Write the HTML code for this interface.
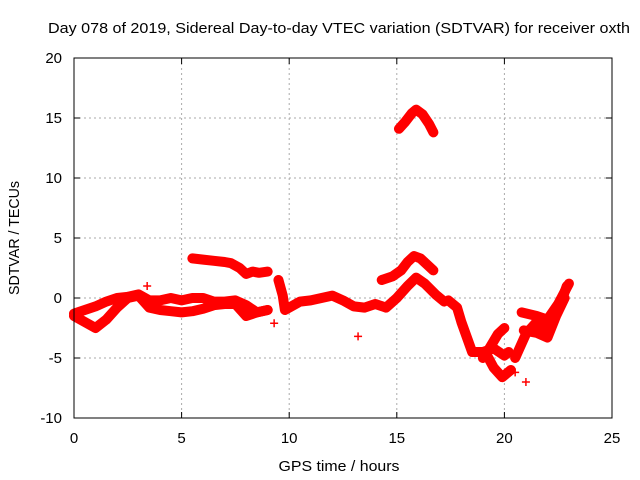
<!DOCTYPE html>
<html><head><meta charset="utf-8"><style>
body{margin:0;background:#fff;}
svg{display:block;font-family:"Liberation Sans",sans-serif;}
</style></head><body>
<svg id="chart" width="640" height="480">
<rect width="640" height="480" fill="#fff"/>
<text x="339" y="33" font-size="15" text-anchor="middle" textLength="582" lengthAdjust="spacingAndGlyphs">Day 078 of 2019, Sidereal Day-to-day VTEC variation (SDTVAR) for receiver oxth</text>
<g id="grid"></g>
<g id="marks"></g>
<rect x="74" y="58" width="538" height="360" fill="none" stroke="#000" stroke-width="1"/>
<g id="ticks"></g>
<text x="339" y="471" font-size="15" text-anchor="middle" textLength="121" lengthAdjust="spacingAndGlyphs">GPS time / hours</text>
<text transform="translate(19,238) rotate(-90)" font-size="15" text-anchor="middle" textLength="114" lengthAdjust="spacingAndGlyphs">SDTVAR / TECUs</text>
</svg>
<script>
const xTicks=[0,5,10,15,20,25];
const yTicks=[-10,-5,0,5,10,15,20];
const trackA=[[5.5,3.3],[6,3.2],[6.5,3.1],[7,3.0],[7.3,2.9],[7.7,2.5],[8,2.0],[8.3,2.2],[8.6,2.1],[9,2.2]];
const trackB=[[15.1,14.1],[15.4,14.7],[15.7,15.4],[15.9,15.7],[16.2,15.3],[16.5,14.5],[16.7,13.8]];
const trackC=[[14.3,1.5],[14.8,1.8],[15.2,2.3],[15.5,3.0],[15.8,3.5],[16.1,3.3],[16.4,2.8],[16.7,2.3]];
const trackD=[[0,-1.3],[0.5,-1],[1,-0.7],[1.5,-0.3],[2,0],[2.5,0.1],[3,0.3],[3.5,-0.2],[4,-0.2],[4.5,0],[5,-0.2],[5.5,0],[6,0],[6.5,-0.3],[7,-0.3],[7.5,-0.2],[8,-0.6],[8.5,-1.2],[9,-1.0]];
const trackE=[[0,-1.5],[0.5,-2],[1,-2.5],[1.5,-1.8],[2,-0.8],[2.5,0],[3,0.2],[3.5,-0.8],[4,-1.0],[4.5,-1.1],[5,-1.2],[5.5,-1.1],[6,-0.9],[6.5,-0.6],[7,-0.5],[7.5,-0.5],[8,-1.5],[8.5,-1.2],[9,-1.0]];
const trackF=[[9.5,1.5],[9.7,0.2],[9.8,-1],[10,-0.8],[10.5,-0.3],[11,-0.2],[11.5,0],[12,0.2],[12.5,-0.2],[13,-0.7],[13.5,-0.8],[14,-0.5],[14.5,-0.8],[15,0],[15.5,1.0],[15.9,1.7],[16.3,1.2],[16.8,0.3],[17.2,-0.3]];
const trackG=[[17.4,-0.2],[17.8,-0.8],[18,-2],[18.3,-3.5],[18.5,-4.5],[19,-4.5],[19.5,-4.2],[20,-4.8],[20.2,-4.5]];
const trackH=[[19.2,-4.8],[19.5,-5.8],[19.9,-6.6],[20.3,-6.0]];
const trackI=[[19.0,-5.0],[19.3,-4.2],[19.7,-3.0],[20,-2.5]];
const trackJ=[[20.8,-1.2],[21.5,-1.5],[22,-1.8],[22.5,-0.5],[23,1.2]];
const trackK=[[20.5,-5],[21,-3],[21.5,-2],[22,-2.5],[22.5,-1],[22.9,1]];
const trackL=[[20.9,-2.7],[21.5,-2.9],[22,-3.3],[22.4,-1.5],[22.8,0]];
const outliers=[[13.2,-3.2],[3.4,1.0],[9.3,-2.1],[20.5,-6.2],[21,-7.0]];
const tracks=[trackA,trackB,trackC,trackD,trackE,trackF,trackG,trackH,trackI,trackJ,trackK,trackL];
const X=h=>74+h*538/25, Y=v=>298-v*12;
const NS="http://www.w3.org/2000/svg";
const grid=document.getElementById('grid'),ticks=document.getElementById('ticks'),marks=document.getElementById('marks');
function mk(tag,at,parent){const e=document.createElementNS(NS,tag);for(const k in at)e.setAttribute(k,at[k]);parent.appendChild(e);return e;}
xTicks.forEach(t=>{const x=X(t);
 if(t>0&&t<25){const l=mk('line',{x1:x,y1:58,x2:x,y2:418,stroke:'#aaa','stroke-dasharray':'2,3'},grid);}
 mk('line',{x1:x,y1:418,x2:x,y2:412,stroke:'#000'},ticks);mk('line',{x1:x,y1:58,x2:x,y2:64,stroke:'#000'},ticks);
 const tx=mk('text',{x:x,y:443,'font-size':15,'text-anchor':'middle'},ticks);tx.textContent=t;
 });
yTicks.forEach(t=>{const y=Y(t);
 if(t>-10&&t<20){const l=mk('line',{x1:74,y1:y,x2:612,y2:y,stroke:'#aaa','stroke-dasharray':'2,3'},grid);}
 mk('line',{x1:74,y1:y,x2:80,y2:y,stroke:'#000'},ticks);mk('line',{x1:612,y1:y,x2:606,y2:y,stroke:'#000'},ticks);
 const tx=mk('text',{x:62,y:y+5,'font-size':15,'text-anchor':'end'},ticks);tx.textContent=t;
 });
function plus(h,v){const x=X(h),y=Y(v);const p=mk('path',{d:`M${x-4},${y}h8M${x},${y-4}v8`,stroke:'#f00','stroke-width':1.5},marks);
 }
tracks.forEach(tr=>{
 const pl=mk('polyline',{points:tr.map(p=>X(p[0])+','+Y(p[1])).join(' '),fill:'none',stroke:'#f00','stroke-width':10,'stroke-linejoin':'round','stroke-linecap':'round'},marks);
 
 tr.forEach(p=>plus(p[0],p[1]));});
outliers.forEach(p=>plus(p[0],p[1]));
</script>
</body></html>
